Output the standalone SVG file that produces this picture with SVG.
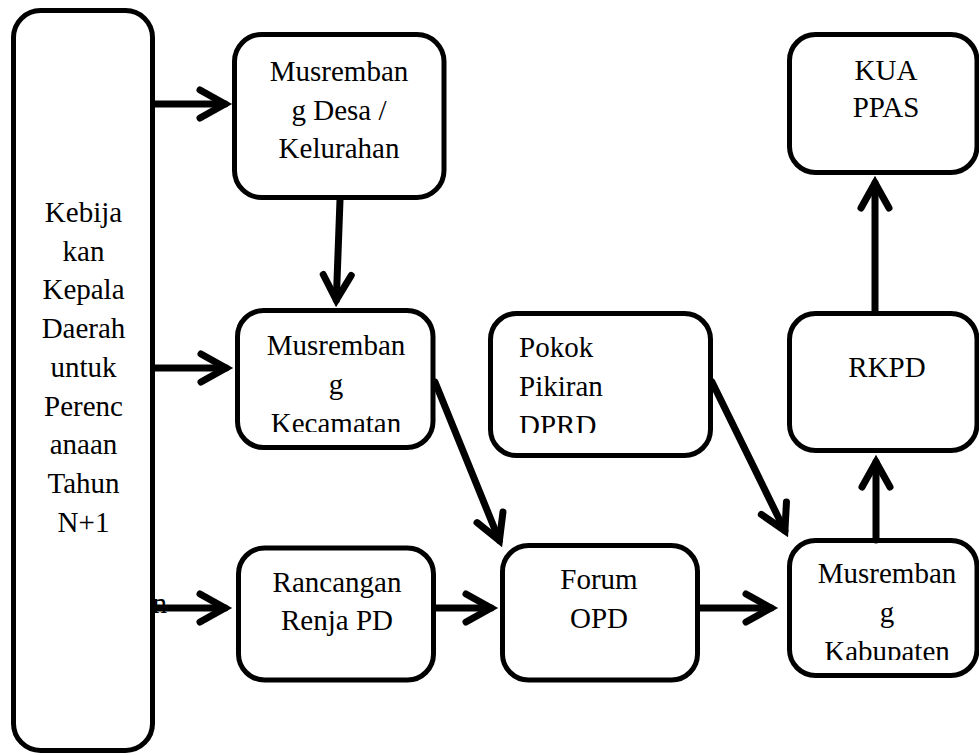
<svg xmlns="http://www.w3.org/2000/svg" width="979" height="755" viewBox="0 0 979 755">
<style>
.box{fill:#fff;stroke:#000;stroke-width:5}
.t{font-family:'Liberation Serif','Times New Roman',serif;font-size:29px;fill:#000}
.c{text-anchor:middle}
.ln{stroke:#000;stroke-width:7;fill:none;stroke-linecap:round}
</style>
<defs>
<marker id="arr" markerUnits="userSpaceOnUse" orient="auto" refX="0" refY="0" markerWidth="60" markerHeight="60" viewBox="-40 -30 60 60" overflow="visible">
<path d="M -25 -14 L 0 0 L -25 14" fill="none" stroke="#000" stroke-width="7" stroke-linecap="round" stroke-linejoin="miter"/>
</marker>
<clipPath id="clipKec"><rect x="230" y="300" width="210" height="132"/></clipPath>
<clipPath id="clipPokok"><rect x="485" y="305" width="230" height="128"/></clipPath>
<clipPath id="clipKab"><rect x="785" y="530" width="194" height="130"/></clipPath>
</defs>
<rect width="979" height="755" fill="#fff"/>

<g id="kebijakan">
<text class="t" x="152.5" y="613">n</text>
<rect class="box" x="13.5" y="10.5" width="139" height="740" rx="27"/>
<text class="t c"><tspan x="83.5" y="222">Kebija</tspan><tspan x="83.5" y="260.7">kan</tspan><tspan x="83.5" y="299.4">Kepala</tspan><tspan x="83.5" y="338">Daerah</tspan><tspan x="83.5" y="376.8">untuk</tspan><tspan x="83.5" y="415.5">Perenc</tspan><tspan x="83.5" y="454">anaan</tspan><tspan x="83.5" y="493">Tahun</tspan><tspan x="83.5" y="531.6">N+1</tspan></text>
</g>

<g id="desa">
<rect class="box" x="234.5" y="34.5" width="209.5" height="163" rx="27"/>
<text class="t c"><tspan x="339" y="81">Musremban</tspan><tspan x="339" y="119.5">g Desa /</tspan><tspan x="339" y="158">Kelurahan</tspan></text>
</g>

<g id="kecamatan">
<rect class="box" x="237.5" y="310.5" width="195.5" height="137" rx="26"/>
<text class="t c" clip-path="url(#clipKec)"><tspan x="336" y="355">Musremban</tspan><tspan x="336" y="393.5">g</tspan><tspan x="336" y="433">Kecamatan</tspan></text>
</g>

<g id="renja">
<rect class="box" x="238.5" y="548" width="195" height="132" rx="26"/>
<text class="t c"><tspan x="337" y="592">Rancangan</tspan><tspan x="337" y="630">Renja PD</tspan></text>
</g>

<g id="pokok">
<rect class="box" x="490.5" y="313.5" width="220" height="142" rx="26"/>
<text class="t" clip-path="url(#clipPokok)"><tspan x="519" y="357">Pokok</tspan><tspan x="519" y="396">Pikiran</tspan><tspan x="519" y="435">DPRD</tspan></text>
</g>

<g id="forum">
<rect class="box" x="502.5" y="545.5" width="195" height="134.5" rx="26"/>
<text class="t c"><tspan x="599" y="589">Forum</tspan><tspan x="599" y="628">OPD</tspan></text>
</g>

<g id="kua">
<rect class="box" x="789.5" y="34.5" width="187.5" height="138" rx="26"/>
<text class="t c"><tspan x="886" y="80">KUA</tspan><tspan x="886" y="117">PPAS</tspan></text>
</g>

<g id="rkpd">
<rect class="box" x="789.5" y="313.5" width="187.5" height="137" rx="26"/>
<text class="t c" x="887" y="377">RKPD</text>
</g>

<g id="kabupaten">
<rect class="box" x="789.5" y="540.5" width="187.5" height="135" rx="26"/>
<text class="t c" clip-path="url(#clipKab)"><tspan x="887" y="583">Musremban</tspan><tspan x="887" y="621.5">g</tspan><tspan x="887" y="660.5">Kabupaten</tspan></text>
</g>

<g id="connectors">
<line class="ln" x1="155" y1="104" x2="225" y2="104" marker-end="url(#arr)"/>
<line class="ln" x1="155" y1="368" x2="226" y2="368" marker-end="url(#arr)"/>
<line class="ln" x1="155" y1="608" x2="225" y2="608" marker-end="url(#arr)"/>
<line class="ln" x1="340" y1="200" x2="336.3" y2="300" marker-end="url(#arr)"/>
<line class="ln" x1="435" y1="382" x2="499.4" y2="540.5" marker-end="url(#arr)"/>
<line class="ln" x1="436" y1="608" x2="491" y2="608" marker-end="url(#arr)"/>
<line class="ln" x1="712" y1="382" x2="784.9" y2="530.7" marker-end="url(#arr)"/>
<line class="ln" x1="700" y1="608" x2="771" y2="608" marker-end="url(#arr)"/>
<line class="ln" x1="876" y1="540" x2="876" y2="462" marker-end="url(#arr)"/>
<line class="ln" x1="875" y1="311" x2="875" y2="183" marker-end="url(#arr)"/>
</g>
</svg>
